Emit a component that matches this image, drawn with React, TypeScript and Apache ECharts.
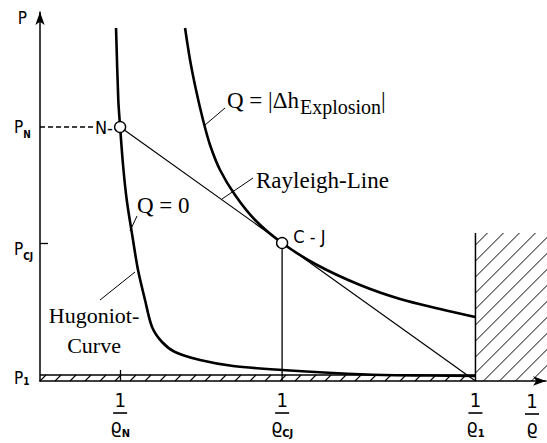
import React, { useEffect, useRef } from 'react';
import * as echarts from 'echarts';

// ---- data (specific volume 1/ϱ on x, pressure P on y; schematic units) ----
const xTickValues = [0.184, 0.556, 1.0];
const xTickSubs = ['N', 'CJ', '1'];
const yTickValues = [1.0, 2.38, 3.54];
const yTickSubs = ['1', 'CJ', 'N'];

const pointN: [number, number] = [0.184, 3.54];
const pointCJ: [number, number] = [0.556, 2.38];
const initialState: [number, number] = [1.0, 1.0];
const wallTop = 2.48;
const dashEnd = 0.126;

const xMax = 1.162;
const yMin = 1.0;
const yMax = 4.69;

// Hugoniot curve, Q = 0
const hugoniotQ0: [number, number][] = [
  [0.1746, 4.53], [0.1798, 3.81], [0.184, 3.54], [0.1907, 3.16], [0.1992, 2.81],
  [0.2136, 2.41], [0.2251, 2.11], [0.2412, 1.81], [0.2573, 1.54], [0.2802, 1.39],
  [0.3101, 1.29], [0.3675, 1.21], [0.4433, 1.15], [0.5559, 1.11], [0.673, 1.08],
  [0.7879, 1.06], [0.8958, 1.055], [0.9992, 1.05],
];

// Hugoniot curve, Q = |Δh Explosion|
const hugoniotQ: [number, number][] = [
  [0.3331, 4.53], [0.3446, 4.21], [0.3583, 3.91], [0.3744, 3.61], [0.3905, 3.36],
  [0.4135, 3.11], [0.4479, 2.86], [0.4939, 2.61], [0.556, 2.38], [0.6363, 2.16],
  [0.735, 1.96], [0.8269, 1.82], [0.9188, 1.72], [0.9992, 1.64],
];

const NARROW = "'Liberation Sans Narrow','DejaVu Sans Condensed','Arial Narrow',sans-serif";
const SERIF = "'Liberation Serif','Times New Roman',serif";
const GREEK = "'DejaVu Sans Condensed','DejaVu Sans',sans-serif";

function hatchLines(x0: number, y0: number, x1: number, y1: number, step: number, phase: number, lw: number) {
  const out: any[] = [];
  for (let c = x0 + y0 + phase; c < x1 + y1; c += step) {
    const xa = Math.max(x0, c - y1);
    const xb = Math.min(x1, c - y0);
    if (xb > xa) {
      out.push({
        type: 'line',
        shape: { x1: xa, y1: c - xa, x2: xb, y2: c - xb },
        style: { stroke: '#000', lineWidth: lw },
      });
    }
  }
  return out;
}

export default function App() {
  const ref = useRef<HTMLDivElement>(null);

  useEffect(() => {
    const chart = echarts.init(ref.current!, null, { renderer: 'svg' });

    const fracRich: any = {
      n: { fontFamily: NARROW, fontSize: 20, lineHeight: 20, color: '#000' },
      bar: { width: 14, height: 1.6, lineHeight: 6, backgroundColor: '#000' },
      d: { fontFamily: GREEK, fontSize: 20, lineHeight: 20, color: '#000' },
      s: { fontFamily: NARROW, fontSize: 11, fontWeight: 'bold', height: 6, lineHeight: 6, verticalAlign: 'bottom', color: '#000' },
    };

    const yRich: any = {
      p: { fontFamily: NARROW, fontSize: 17, lineHeight: 16, color: '#000' },
      s: { fontFamily: NARROW, fontSize: 10, fontWeight: 'bold', height: 2, lineHeight: 2, verticalAlign: 'bottom', color: '#000' },
      pc: { fontFamily: NARROW, fontSize: 17, height: 16, lineHeight: 28, verticalAlign: 'bottom', color: '#000' },
      sc: { fontFamily: NARROW, fontSize: 10, fontWeight: 'bold', height: 2, lineHeight: 2, verticalAlign: 'bottom', color: '#000' },
      p1: { fontFamily: NARROW, fontSize: 17, height: 16, lineHeight: 23, verticalAlign: 'top', color: '#000' },
      s1: { fontFamily: NARROW, fontSize: 10, fontWeight: 'bold', color: '#000' },
    };

    const findIdx = (arr: number[], v: number) => arr.findIndex((a) => Math.abs(a - v) < 1e-6);

    const renderWall = (_params: any, api: any) => {
      const tl = api.coord([api.value(0), api.value(3)]);
      const br = api.coord([api.value(2), api.value(1)]);
      const children = hatchLines(tl[0], tl[1], br[0] + 2, br[1], 16, 12, 1);
      children.push({
        type: 'line',
        shape: { x1: tl[0], y1: tl[1], x2: tl[0], y2: br[1] },
        style: { stroke: '#000', lineWidth: 1.5 },
      });
      return { type: 'group', children };
    };

    const renderGround = (_params: any, api: any) => {
      const l = api.coord([api.value(0), api.value(1)]);
      const r = api.coord([api.value(2), api.value(3)]);
      const h = 6;
      const children = hatchLines(l[0], l[1] - h, r[0], l[1], 15, 6, 1.1);
      children.push({
        type: 'line',
        shape: { x1: l[0], y1: l[1] - h, x2: r[0], y2: l[1] - h },
        style: { stroke: '#000', lineWidth: 1.5 },
      });
      return { type: 'group', children };
    };

    const thin = { color: '#000', width: 1.2 };
    const annoText = (text: string, x: number, y: number, size: number, align = 'left') => ({
      type: 'text',
      x,
      y,
      silent: true,
      style: { text, fill: '#000', font: `${size}px ${SERIF}`, align, verticalAlign: 'middle' },
    });
    const leader = (x1: number, y1: number, x2: number, y2: number) => ({
      type: 'line',
      silent: true,
      shape: { x1, y1, x2, y2 },
      style: { stroke: '#000', lineWidth: 1 },
    });

    chart.setOption({
      animation: false,
      backgroundColor: '#fff',
      grid: { left: 40, right: 1, top: 12, bottom: 62 },
      xAxis: {
        type: 'value',
        min: 0,
        max: xMax,
        splitLine: { show: false },
        axisLine: {
          show: true,
          onZero: false,
          symbol: ['none', 'arrow'],
          symbolSize: [7, 13],
          lineStyle: { color: '#000', width: 1.5 },
        },
        axisTick: { show: true, inside: true, length: 11, customValues: [xTickValues[0]], lineStyle: { color: '#000', width: 1.3 } },
        axisLabel: {
          customValues: xTickValues,
          margin: 9,
          formatter: (v: number) => {
            const i = findIdx(xTickValues, v);
            return `{n|1}\n{bar| }\n{d|ϱ}{s|${xTickSubs[i] ?? ''}}`;
          },
          rich: fracRich,
        },
        name: '{n|1}\n{bar| }\n{d|ϱ}',
        nameLocation: 'end',
        nameGap: -14,
        nameTextStyle: { align: 'center', verticalAlign: 'top', padding: [10, 0, 0, 0], rich: fracRich },
      },
      yAxis: {
        type: 'value',
        min: yMin,
        max: yMax,
        splitLine: { show: false },
        axisLine: {
          show: true,
          onZero: false,
          symbol: ['none', 'arrow'],
          symbolSize: [7, 13],
          lineStyle: { color: '#000', width: 1.5 },
        },
        axisTick: { show: true, inside: true, length: 8, customValues: [yTickValues[1]], lineStyle: { color: '#000', width: 1.3 } },
        axisLabel: {
          customValues: yTickValues,
          margin: 26,
          align: 'left',
          formatter: (v: number) => {
            const i = findIdx(yTickValues, v);
            const sub = yTickSubs[i] ?? '';
            if (i === 0) return `{p1|P}{s1|${sub}}`;
            if (i === 1) return `{pc|P}{sc|${sub}}`;
            return `{p|P}{s|${sub}}`;
          },
          rich: yRich,
        },
        name: 'P',
        nameLocation: 'end',
        nameGap: -6,
        nameTextStyle: { fontFamily: NARROW, fontSize: 17, color: '#000', align: 'right', verticalAlign: 'middle', padding: [0, 13, 0, 0] },
      },
      series: [
        {
          type: 'custom',
          renderItem: renderWall,
          data: [[initialState[0], initialState[1], xMax, wallTop]],
          clip: false,
          silent: true,
          z: 1,
        },
        {
          type: 'custom',
          renderItem: renderGround,
          data: [[0, initialState[1], initialState[0], initialState[1]]],
          clip: false,
          silent: true,
          z: 1,
        },
        {
          type: 'line',
          data: hugoniotQ0,
          smooth: 0.3,
          symbol: 'none',
          lineStyle: { color: '#000', width: 2.6 },
          z: 3,
        },
        {
          type: 'line',
          data: hugoniotQ,
          smooth: 0.3,
          symbol: 'none',
          lineStyle: { color: '#000', width: 2.6 },
          z: 3,
        },
        {
          type: 'line',
          data: [pointN, initialState],
          symbol: 'none',
          lineStyle: thin,
          z: 2,
        },
        {
          type: 'line',
          data: [pointCJ, [pointCJ[0], initialState[1]]],
          symbol: 'none',
          lineStyle: { color: '#000', width: 1.3 },
          z: 2,
        },
        {
          type: 'line',
          data: [[0, pointN[1]], [dashEnd, pointN[1]]],
          symbol: 'none',
          lineStyle: { color: '#000', width: 1.3, type: [5, 3] },
          z: 2,
        },
        {
          type: 'scatter',
          data: [
            { value: pointN, label: { position: 'left', distance: 1, formatter: 'N-' } },
            { value: pointCJ, label: { position: 'right', distance: 5, offset: [0, -7], formatter: 'C - J' } },
          ],
          symbol: 'circle',
          symbolSize: 11,
          itemStyle: { color: '#fff', borderColor: '#000', borderWidth: 1.4, opacity: 1 },
          label: { show: true, fontFamily: NARROW, fontSize: 18, color: '#000', opacity: 1 },
          emphasis: { disabled: true },
          z: 5,
        },
      ],
      graphic: [
        annoText('Q = |Δh', 227, 100.5, 23),
        annoText('Explosion', 300, 106.5, 20),
        annoText('|', 381, 100.5, 23),
        leader(205, 125, 225, 108),
        annoText('Rayleigh-Line', 256, 180.5, 23),
        leader(222, 199, 253, 178),
        annoText('Q = 0', 137, 205.5, 23),
        leader(130, 231, 137, 216),
        annoText('Hugoniot-', 94, 315.5, 22, 'center'),
        annoText('Curve', 94, 345.5, 22, 'center'),
        leader(100, 300, 135, 272),
      ],
    });

    return () => chart.dispose();
  }, []);

  return (
    <div
      ref={ref}
      style={{ position: 'absolute', left: 0, top: 0, width: 547, height: 443, background: '#fff' }}
    />
  );
}
